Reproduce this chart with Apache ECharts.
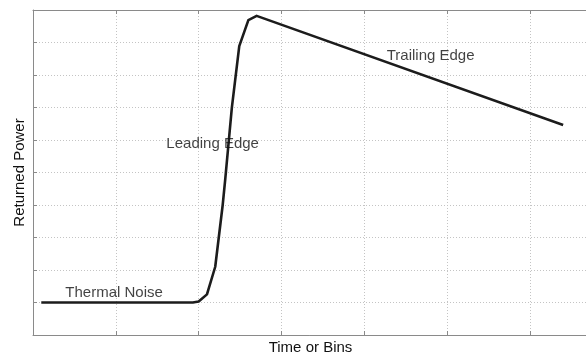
<!DOCTYPE html>
<html>
<head>
<meta charset="utf-8">
<script src="https://cdn.jsdelivr.net/npm/echarts@6/dist/echarts.min.js"></script>
<style>
  html, body { margin: 0; padding: 0; background: #fff; }
  #chart { width: 586px; height: 358px; }
</style>
</head>
<body>
<div id="chart"></div>
<script>
// Radar altimeter return waveform: returned power versus time (range bins)
const timeBins = [0.10, 1.93, 2.00, 2.10, 2.20, 2.29, 2.32, 2.40, 2.49, 2.60, 2.70, 6.40];
const returnedPower = [1.00, 1.00, 1.03, 1.25, 2.10, 4.00, 4.77, 6.98, 8.89, 9.69, 9.82, 6.46];

// Waveform region annotations (data coordinates)
const regionNames = ['Thermal Noise', 'Leading Edge', 'Trailing Edge'];
const regionX = [0.39, 1.61, 4.27];
const regionY = [1.30, 5.88, 8.59];

const FONT = 'Liberation Sans, Arial, Helvetica, sans-serif';
const AXIS_GREY = '#8a8a8a';
const TEXT = '#111';

const chart = echarts.init(document.getElementById('chart'), null, { renderer: 'canvas' });

const gridLine = { show: true, lineStyle: { color: '#c4c4c4', type: [1, 2], width: 1 } };

chart.setOption({
  animation: false,
  backgroundColor: '#ffffff',
  grid: { left: 33, right: -2, top: 10, bottom: 23, containLabel: false, outerBoundsMode: 'none' },
  xAxis: [
    {
      type: 'value', min: 0, max: 6.7, interval: 1, position: 'bottom',
      name: 'Time or Bins', nameLocation: 'middle', nameGap: 5,
      nameTextStyle: { fontFamily: FONT, fontSize: 15, color: TEXT },
      axisLine: { show: true, lineStyle: { color: AXIS_GREY, width: 1 } },
      axisTick: { show: true, inside: true, length: 4, lineStyle: { color: AXIS_GREY } },
      axisLabel: { show: false },
      splitLine: gridLine
    },
    {
      type: 'value', min: 0, max: 6.7, interval: 1, position: 'top',
      axisLine: { show: true, lineStyle: { color: AXIS_GREY, width: 1 } },
      axisTick: { show: true, inside: true, length: 4, lineStyle: { color: AXIS_GREY } },
      axisLabel: { show: false },
      splitLine: { show: false }
    }
  ],
  yAxis: {
    type: 'value', min: 0, max: 10, interval: 1,
    name: 'Returned Power', nameLocation: 'middle', nameGap: 6,
    nameTextStyle: { fontFamily: FONT, fontSize: 15, color: TEXT },
    axisLine: { show: true, lineStyle: { color: AXIS_GREY, width: 1 } },
    axisTick: { show: true, inside: true, length: 4, lineStyle: { color: AXIS_GREY } },
    axisLabel: { show: false },
    splitLine: gridLine
  },
  series: [
    {
      type: 'line',
      xAxisIndex: 0,
      data: timeBins.map((t, i) => [t, returnedPower[i]]),
      showSymbol: false,
      symbol: 'none',
      lineStyle: { color: '#1c1c1c', width: 2.6, join: 'round' },
      z: 3
    },
    {
      type: 'scatter',
      xAxisIndex: 0,
      symbolSize: 0,
      silent: true,
      data: regionNames.map((n, i) => ({ value: [regionX[i], regionY[i]], name: n })),
      label: {
        show: true, position: 'inside', align: 'left', verticalAlign: 'middle',
        formatter: p => p.name,
        fontFamily: FONT, fontSize: 15, color: TEXT
      },
      z: 4
    }
  ]
});
</script>
</body>
</html>
